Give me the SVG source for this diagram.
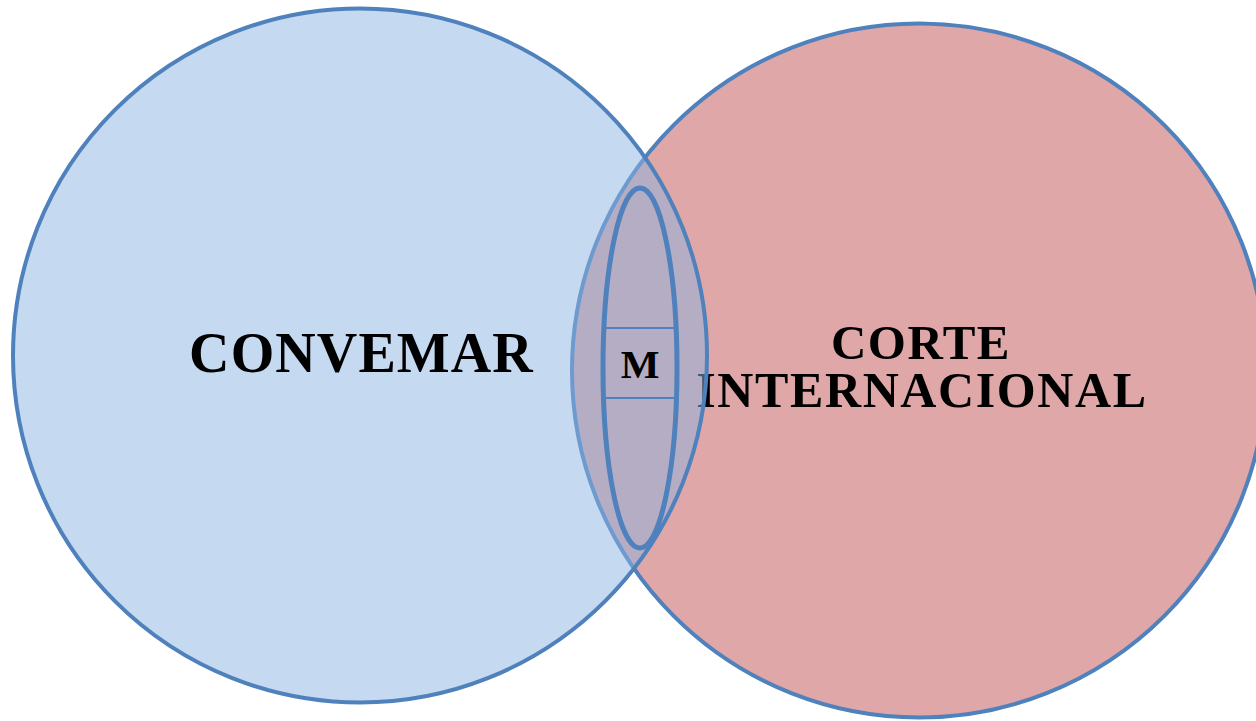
<svg xmlns="http://www.w3.org/2000/svg" width="1256" height="721" viewBox="0 0 1256 721">
<style>
.lbl{font-family:"Liberation Serif","Times New Roman",serif;font-weight:bold;fill:#000;text-anchor:middle}
.edge{stroke:#4f81bd;fill:none}
</style>
<rect width="1256" height="721" fill="#ffffff"/>
<g id="corte">
<circle cx="919" cy="370.5" r="347" fill="#dfa7a7" stroke="#4f81bd" stroke-width="4"/>
<text class="lbl" x="921" y="359" font-size="49" letter-spacing="1.5">CORTE</text>
<text class="lbl" x="922" y="407" font-size="50" letter-spacing="1.6">INTERNACIONAL</text>
</g>
<g id="convemar">
<circle cx="360" cy="355.5" r="347" fill="#8bb3e1" fill-opacity="0.5" stroke="#4f81bd" stroke-width="4"/>
<text class="lbl" x="361.5" y="372" font-size="56" letter-spacing="1.1">CONVEMAR</text>
</g>
<g id="m">
<ellipse class="edge" cx="640" cy="368" rx="37" ry="180" stroke-width="5"/>
<line class="edge" x1="603" y1="328" x2="677" y2="328" stroke-width="2"/>
<line class="edge" x1="603" y1="398" x2="677" y2="398" stroke-width="2"/>
<text class="lbl" x="640" y="378" font-size="41">M</text>
</g>
<g id="connectors"></g>
</svg>
